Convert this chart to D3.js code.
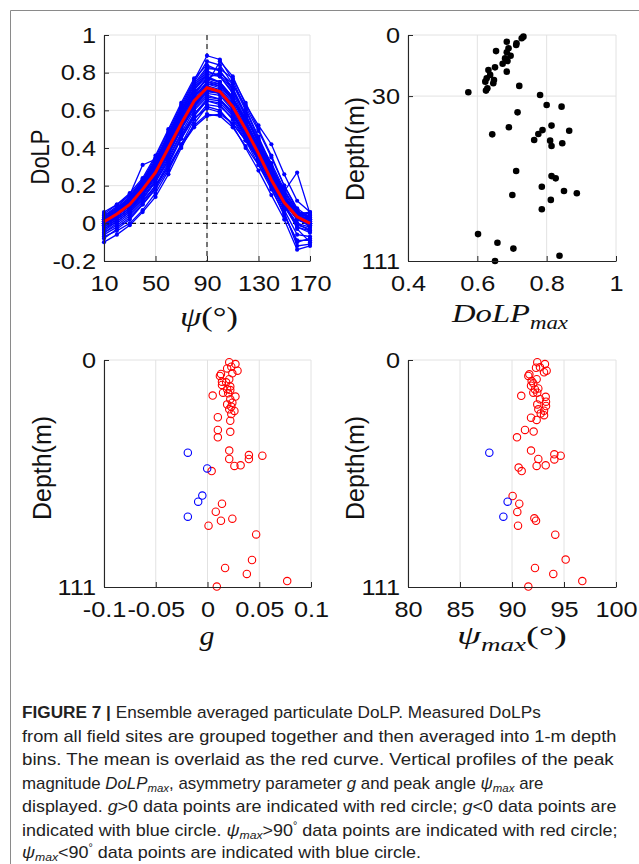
<!DOCTYPE html>
<html><head><meta charset="utf-8">
<script src="https://cdn.jsdelivr.net/npm/d3@7"></script>
<style>body{margin:0;background:#fff}svg{display:block}</style>
</head><body>
<svg id="c" width="639" height="864"></svg>
<script>
// ---------------- DATA ----------------
const psiAngles = [10,20,30,40,50,60,70,80,90,100,110,120,130,140,150,160,170];
const meanDoLP = [0.008,0.05,0.10,0.18,0.27,0.40,0.53,0.65,0.72,0.70,0.62,0.50,0.37,0.23,0.11,0.035,0.0];
const dolpSeries = [
 [0.03,0.08,0.14,0.23,0.35,0.49,0.63,0.76,0.89,0.87,0.76,0.61,0.46,0.31,0.17,0.07,0.02],
 [0.01,0.06,0.12,0.21,0.33,0.48,0.62,0.75,0.86,0.84,0.74,0.6,0.45,0.3,0.15,0.05,0.0],
 [0.05,0.1,0.16,0.24,0.36,0.5,0.64,0.77,0.84,0.81,0.72,0.58,0.44,0.29,0.14,0.06,0.04],
 [0.02,0.07,0.13,0.22,0.34,0.47,0.61,0.73,0.82,0.82,0.77,0.64,0.5,0.36,0.2,0.08,0.03],
 [0.0,0.05,0.11,0.2,0.31,0.45,0.59,0.71,0.8,0.79,0.71,0.57,0.43,0.29,0.14,0.04,0.01],
 [0.04,0.09,0.15,0.31,0.34,0.46,0.58,0.69,0.77,0.75,0.67,0.54,0.41,0.27,0.13,0.05,0.03],
 [0.02,0.06,0.11,0.19,0.29,0.42,0.55,0.67,0.75,0.73,0.65,0.53,0.41,0.29,0.17,0.27,0.05],
 [-0.01,0.04,0.09,0.17,0.27,0.39,0.52,0.64,0.74,0.86,0.78,0.63,0.52,0.42,0.26,0.12,0.06],
 [-0.03,0.02,0.07,0.15,0.25,0.37,0.51,0.63,0.71,0.69,0.61,0.49,0.36,0.22,0.09,-0.02,-0.05],
 [-0.05,0.0,0.05,0.12,0.2,0.3,0.42,0.52,0.58,0.57,0.51,0.41,0.31,0.2,0.09,0.0,-0.04],
 [-0.08,-0.03,0.02,0.1,0.18,0.29,0.41,0.51,0.57,0.58,0.53,0.44,0.34,0.23,0.11,-0.03,-0.1],
 [-0.1,-0.06,-0.01,0.06,0.14,0.26,0.4,0.53,0.62,0.6,0.52,0.4,0.28,0.15,0.02,-0.14,-0.12],
 [-0.06,-0.02,0.03,0.1,0.19,0.31,0.45,0.57,0.65,0.63,0.55,0.44,0.31,0.18,0.05,-0.1,-0.08],
 [0.01,0.05,0.1,0.18,0.28,0.41,0.54,0.66,0.74,0.72,0.64,0.51,0.38,0.25,0.12,0.03,0.0],
 [0.0,0.04,0.09,0.17,0.26,0.39,0.52,0.64,0.71,0.69,0.61,0.49,0.36,0.23,0.11,0.02,-0.01],
 [0.03,0.07,0.12,0.2,0.3,0.43,0.57,0.69,0.77,0.75,0.67,0.54,0.4,0.27,0.14,0.05,0.02],
 [-0.02,0.03,0.08,0.16,0.25,0.37,0.5,0.62,0.69,0.68,0.6,0.48,0.35,0.22,0.09,-0.01,-0.03],
 [0.04,0.08,0.13,0.21,0.32,0.45,0.59,0.71,0.79,0.78,0.7,0.57,0.43,0.3,0.16,0.06,0.05],
 [-0.04,0.01,0.06,0.13,0.22,0.34,0.47,0.58,0.65,0.64,0.57,0.46,0.34,0.21,0.07,-0.06,-0.07],
 [0.02,0.06,0.11,0.19,0.3,0.43,0.56,0.68,0.77,0.8,0.74,0.62,0.49,0.35,0.2,0.07,0.02],
 [0.01,0.05,0.1,0.18,0.28,0.4,0.53,0.65,0.73,0.71,0.63,0.52,0.39,0.26,0.13,0.04,0.01],
 [-0.07,-0.04,0.0,0.07,0.16,0.28,0.42,0.55,0.63,0.62,0.56,0.45,0.33,0.2,0.06,-0.12,-0.11],
 [0.06,0.1,0.15,0.23,0.33,0.46,0.6,0.71,0.78,0.75,0.66,0.53,0.39,0.25,0.12,0.05,0.06],
 [0.0,0.03,0.08,0.15,0.24,0.36,0.5,0.61,0.68,0.66,0.59,0.47,0.35,0.24,0.12,0.03,0.0],
 [-0.02,0.02,0.07,0.14,0.23,0.35,0.48,0.6,0.67,0.66,0.58,0.47,0.35,0.23,0.1,0.0,-0.02],
 [0.03,0.07,0.13,0.21,0.31,0.44,0.57,0.68,0.74,0.73,0.66,0.56,0.44,0.32,0.18,0.06,0.03],
 [0.02,0.06,0.12,0.21,0.32,0.46,0.6,0.72,0.81,0.78,0.69,0.55,0.41,0.27,0.13,0.04,0.02],
 [-0.05,-0.01,0.04,0.11,0.2,0.32,0.46,0.58,0.66,0.65,0.58,0.46,0.33,0.19,0.04,-0.09,-0.09],
 [0.01,0.05,0.1,0.19,0.29,0.42,0.55,0.67,0.75,0.74,0.66,0.53,0.39,0.26,0.11,0.02,0.0],
 [-0.01,0.03,0.08,0.16,0.26,0.38,0.51,0.62,0.7,0.7,0.63,0.52,0.4,0.27,0.13,0.02,-0.01],
 [0.0,0.04,0.1,0.18,0.27,0.4,0.53,0.64,0.72,0.7,0.62,0.5,0.37,0.24,0.1,-0.02,-0.04],
 [0.04,0.08,0.14,0.22,0.33,0.47,0.61,0.74,0.83,0.81,0.71,0.57,0.42,0.28,0.14,0.05,0.04],
 [-0.03,0.01,0.06,0.13,0.22,0.33,0.45,0.56,0.61,0.59,0.53,0.44,0.34,0.24,0.13,0.03,-0.02],
 [0.02,0.05,0.1,0.17,0.27,0.39,0.52,0.63,0.7,0.69,0.62,0.51,0.38,0.25,0.12,0.02,0.01],
 [0.01,0.06,0.12,0.2,0.31,0.44,0.58,0.7,0.76,0.74,0.66,0.54,0.41,0.28,0.14,0.04,0.02]
];
const dolpMaxDepth = [0.8,1.6,4.1,4.9,3.3,6.5,7.9,8.5,10.2,11.5,12.8,14.1,15.9,18.0,17.2,19.6,21.3,22.1,22.9,23.7,26.2,27.3,25.0,28.1,29.5,34.4,35.2,38.0,45.3,44.5,47.0,46.7,48.6,48.8,51.6,51.9,54.5,53.2,66.8,69.3,70.4,74.5,76.6,77.7,78.6,81.0,85.6,97.8,102.0,104.9,108.4,111];
const dolpMaxValue = [0.733,0.728,0.713,0.712,0.685,0.69,0.654,0.685,0.696,0.68,0.687,0.673,0.651,0.685,0.632,0.637,0.627,0.648,0.623,0.646,0.629,0.625,0.721,0.574,0.781,0.80,0.843,0.716,0.691,0.814,0.865,0.788,0.776,0.643,0.764,0.81,0.814,0.845,0.712,0.814,0.826,0.786,0.85,0.887,0.701,0.812,0.786,0.602,0.658,0.704,0.837,0.651];
const gDepth = [1.1,2.0,4.1,3.3,5.2,6.5,6.8,7.8,9.4,10.6,10.9,12.2,13.0,14.3,14.7,16.0,16.3,17.4,17.9,19.2,20.9,21.7,22.8,24.1,24.9,26.4,28.0,29.7,34.2,35.1,37.8,44.3,46.5,46.8,48.4,48.4,51.5,51.8,54.3,70.3,74.2,77.6,78.6,81.0,85.3,97.8,101.7,104.6,108.1,110.8,45.3,53.0,66.3,69.3,76.6];
const gValue = [0.021,0.027,0.019,0.023,0.029,0.024,0.013,0.012,0.021,0.014,0.018,0.014,0.022,0.019,0.022,0.015,0.020,0.005,0.027,0.022,0.024,0.019,0.023,0.021,0.026,0.023,0.010,0.022,0.010,0.022,0.010,0.021,0.040,0.053,0.021,0.040,0.032,0.026,0.004,0.014,0.008,0.024,0.013,0.001,0.047,0.043,0.017,0.038,0.077,0.009,-0.019,-0.0003,-0.005,-0.009,-0.019];
const psiDepth = [1.1,2.0,3.8,3.6,5.2,6.0,7.0,7.8,9.4,10.3,11.4,12.6,13.9,14.4,16.0,16.0,17.5,18.0,19.2,20.4,21.7,22.5,24.1,24.8,26.1,27.0,28.2,29.3,34.2,35.0,37.8,44.3,46.1,46.8,48.4,48.6,51.5,51.8,52.6,54.3,66.5,70.3,74.3,77.4,78.6,81.0,85.4,97.6,101.7,104.6,108.1,110.8,45.3,69.3,76.6];
const psiValue = [92.43,93.17,92.31,92.69,93.33,93.08,91.67,91.57,92.37,91.89,92.05,91.83,92.53,92.21,92.05,92.43,90.89,93.24,92.69,93.27,92.43,93.27,92.53,93.08,92.76,93.08,91.83,92.37,91.25,92.08,90.48,91.83,94.07,94.68,92.53,94.07,93.24,92.37,90.64,90.93,90.06,90.70,90.51,92.15,92.31,90.58,94.16,95.16,92.21,93.97,96.76,91.57,87.82,89.58,89.17];
const psiTicks = [10,50,90,130,170];
const dolpTicks = [-0.2,0,0.2,0.4,0.6,0.8,1];
const dolpMaxTicks = [0.4,0.6,0.8,1];
const depthTicksTop = [0,30,111];
const depthTicks = [0,111];
const gTicks = [-0.1,-0.05,0,0.05,0.1];
const psiMaxTicks = [80,85,90,95,100];

// ---------------- DRAW ----------------
const svg = d3.select("#c");
const SX = 1.15;
const AX = "#262626", GRID = "#e2e2e2";
const TICKFONT = "Liberation Sans, Arial, sans-serif";
const SERIF = "Liberation Serif, Times New Roman, serif";

// frame
svg.append("path").attr("d","M639,10.5H10.5V864").attr("fill","none").attr("stroke","#8a8a8a").attr("stroke-width",1);

function grid(g, xs, ys, xv, yv){
  const [x0,x1] = xs.range(), [y0,y1] = ys.range();
  g.selectAll(null).data(xv).join("line")
   .attr("x1",d=>xs(d)).attr("x2",d=>xs(d)).attr("y1",Math.min(y0,y1)).attr("y2",Math.max(y0,y1))
   .attr("stroke",GRID).attr("stroke-width",1);
  g.selectAll(null).data(yv).join("line")
   .attr("y1",d=>ys(d)).attr("y2",d=>ys(d)).attr("x1",x0).attr("x2",x1)
   .attr("stroke",GRID).attr("stroke-width",1);
}
function axes(g, xs, ys, xt, yt){
  const yb = Math.max(...ys.range()), xl = Math.min(...xs.range());
  const ax = g.append("g").attr("transform",`translate(0,${yb})`)
    .call(d3.axisBottom(xs).tickValues(xt).tickSizeInner(-5).tickSizeOuter(0).tickPadding(14).tickFormat(d=>String(d)));
  const ay = g.append("g").attr("transform",`translate(${xl},0)`)
    .call(d3.axisLeft(ys).tickValues(yt).tickSizeInner(-5).tickSizeOuter(0).tickPadding(7).tickFormat(d=>String(d)));
  [ax,ay].forEach(a=>{
    a.attr("font-family",TICKFONT).attr("font-size",22);
    a.select(".domain").attr("stroke",AX).attr("stroke-width",1.1);
    a.selectAll(".tick line").attr("stroke",AX);
    a.selectAll("text").attr("fill","#111").attr("transform",`scale(${SX},1)`);
  });
}
function ylabel(text, x, y, len){
  const t = svg.append("text").attr("transform",`translate(${x},${y}) scale(${SX},1) rotate(-90)`)
    .attr("text-anchor","middle").attr("dy","0.36em").attr("font-family",TICKFONT).attr("font-size",22)
    .attr("fill","#111").text(text);
  if(len) t.attr("textLength",len).attr("lengthAdjust","spacingAndGlyphs");
}
function mathLabel(parts, cx, baseline, width, size){
  const t = svg.append("text").attr("font-family",SERIF).attr("font-size",size).attr("fill","#111")
    .attr("x",0).attr("y",0);
  parts.forEach(p=>{
    const ts = t.append("tspan").text(p.t);
    if(p.i) ts.attr("font-style","italic");
    if(p.sub) ts.attr("font-size",size*0.7).attr("dy",size*0.25);
    if(p.up) ts.attr("dy",-size*0.25);
  });
  const w = t.node().getComputedTextLength();
  const s = width / w;
  t.attr("transform",`translate(${cx - width/2},${baseline}) scale(${s},1)`);
}

// ----- Panel 1: DoLP vs psi -----
const x1s = d3.scaleLinear([10,170],[104,310]);
const y1s = d3.scaleLinear([-0.2,1],[261,35]);
const p1 = svg.append("g");
grid(p1, x1s, y1s, psiTicks, dolpTicks);
p1.append("line").attr("x1",x1s(90)).attr("x2",x1s(90)).attr("y1",y1s(1)).attr("y2",y1s(-0.2))
  .attr("stroke","#111").attr("stroke-dasharray","5,4").attr("stroke-width",1.1);
p1.append("line").attr("x1",x1s(10)).attr("x2",x1s(170)).attr("y1",y1s(0)).attr("y2",y1s(0))
  .attr("stroke","#111").attr("stroke-dasharray","5,4").attr("stroke-width",1.1);
const line1 = d3.line().x((d,i)=>x1s(psiAngles[i])).y(d=>y1s(d));
dolpSeries.forEach(s=>{
  p1.append("path").attr("d",line1(s)).attr("fill","none").attr("stroke","#0000ff").attr("stroke-width",1.3);
  p1.selectAll(null).data(s).join("circle").attr("cx",(d,i)=>x1s(psiAngles[i])).attr("cy",d=>y1s(d))
    .attr("r",2.1).attr("fill","#0000ff");
});
p1.append("path").attr("d",line1(meanDoLP)).attr("fill","none").attr("stroke","#ff0000").attr("stroke-width",3);
axes(p1, x1s, y1s, psiTicks, dolpTicks);
ylabel("DoLP", 40, 157);
mathLabel([{t:"ψ",i:true},{t:"(°)"}], 209, 326, 58, 28);

// ----- Panel 2: DoLPmax vs depth -----
const x2s = d3.scaleLinear([0.4,1],[408,616]);
const y2s = d3.scaleLinear([0,111],[35,261]);
const p2 = svg.append("g");
grid(p2, x2s, y2s, dolpMaxTicks, [0,30]);
p2.selectAll(null).data(dolpMaxValue).join("circle")
  .attr("cx",d=>x2s(d)).attr("cy",(d,i)=>y2s(dolpMaxDepth[i])).attr("r",3.3).attr("fill","#000");
axes(p2, x2s, y2s, dolpMaxTicks, depthTicksTop);
ylabel("Depth(m)", 355, 149, 104);
mathLabel([{t:"DoLP",i:true},{t:"max",i:true,sub:true}], 510, 322, 116, 26);

// ----- Panel 3: g vs depth -----
const x3s = d3.scaleLinear([-0.1,0.1],[104,311]);
const y3s = d3.scaleLinear([0,111],[360,587]);
const p3 = svg.append("g");
grid(p3, x3s, y3s, gTicks, [0]);
p3.selectAll(null).data(gValue).join("circle")
  .attr("cx",d=>x3s(d)).attr("cy",(d,i)=>y3s(gDepth[i])).attr("r",3.7)
  .attr("fill","none").attr("stroke",d=>d>0?"#ff0000":"#0000ff").attr("stroke-width",1.1);
axes(p3, x3s, y3s, gTicks, depthTicks);
ylabel("Depth(m)", 42, 468, 104);
mathLabel([{t:"g",i:true}], 207, 645, 15, 28);

// ----- Panel 4: psi_max vs depth -----
const x4s = d3.scaleLinear([80,100],[408,616]);
const y4s = d3.scaleLinear([0,111],[360,587]);
const p4 = svg.append("g");
grid(p4, x4s, y4s, psiMaxTicks, [0]);
p4.selectAll(null).data(psiValue).join("circle")
  .attr("cx",d=>x4s(d)).attr("cy",(d,i)=>y4s(psiDepth[i])).attr("r",3.7)
  .attr("fill","none").attr("stroke",d=>d>90?"#ff0000":"#0000ff").attr("stroke-width",1.1);
axes(p4, x4s, y4s, psiMaxTicks, depthTicks);
ylabel("Depth(m)", 355, 468, 104);
mathLabel([{t:"ψ",i:true},{t:"max",i:true,sub:true},{t:"(°)",up:true}], 512, 644, 110, 26);

// ----- Caption -----
const captionLines = [
  [{t:"FIGURE 7 | ",b:true},{t:"Ensemble averaged particulate DoLP. Measured DoLPs"}],
  [{t:"from all field sites are grouped together and then averaged into 1-m depth"}],
  [{t:"bins. The mean is overlaid as the red curve. Vertical profiles of the peak"}],
  [{t:"magnitude "},{t:"DoLP",i:true},{t:"max",i:true,sub:true},{t:", asymmetry parameter ",up:true},{t:"g",i:true},{t:" and peak angle "},{t:"ψ",i:true},{t:"max",i:true,sub:true},{t:" are",up:true}],
  [{t:"displayed. "},{t:"g",i:true},{t:">0 data points are indicated with red circle; "},{t:"g",i:true},{t:"<0 data points are"}],
  [{t:"indicated with blue circle. "},{t:"ψ",i:true},{t:"max",i:true,sub:true},{t:">90",up:true},{t:"°",sup:true},{t:" data points are indicated with red circle;",down:true}],
  [{t:"ψ",i:true},{t:"max",i:true,sub:true},{t:"<90",up:true},{t:"°",sup:true},{t:" data points are indicated with blue circle.",down:true}]
];
const captionEnds = [541,617,614,544,617,618,null];
const captionBase = [718,741.5,765,788.5,812,835.5,858];
let lastScale = 0.93;
captionLines.forEach((segs,li)=>{
  const size = 17;
  const t = svg.append("text").attr("font-family",TICKFONT).attr("font-size",size).attr("fill","#222");
  segs.forEach(p=>{
    const ts = t.append("tspan").text(p.t);
    if(p.b) ts.attr("font-weight","bold");
    if(p.i) ts.attr("font-style","italic");
    if(p.sub) ts.attr("font-size",size*0.68).attr("dy",size*0.18);
    if(p.up) ts.attr("dy",-size*0.18);
    if(p.sup) ts.attr("font-size",size*0.6).attr("dy",-size*0.4);
    if(p.down) ts.attr("dy",size*0.4);
  });
  const w = t.node().getComputedTextLength();
  const s = captionEnds[li] ? (captionEnds[li]-22)/w : lastScale;
  if(captionEnds[li]) lastScale = s;
  t.attr("transform",`translate(22,${captionBase[li]}) scale(${s},1)`);
});
</script>
</body></html>
